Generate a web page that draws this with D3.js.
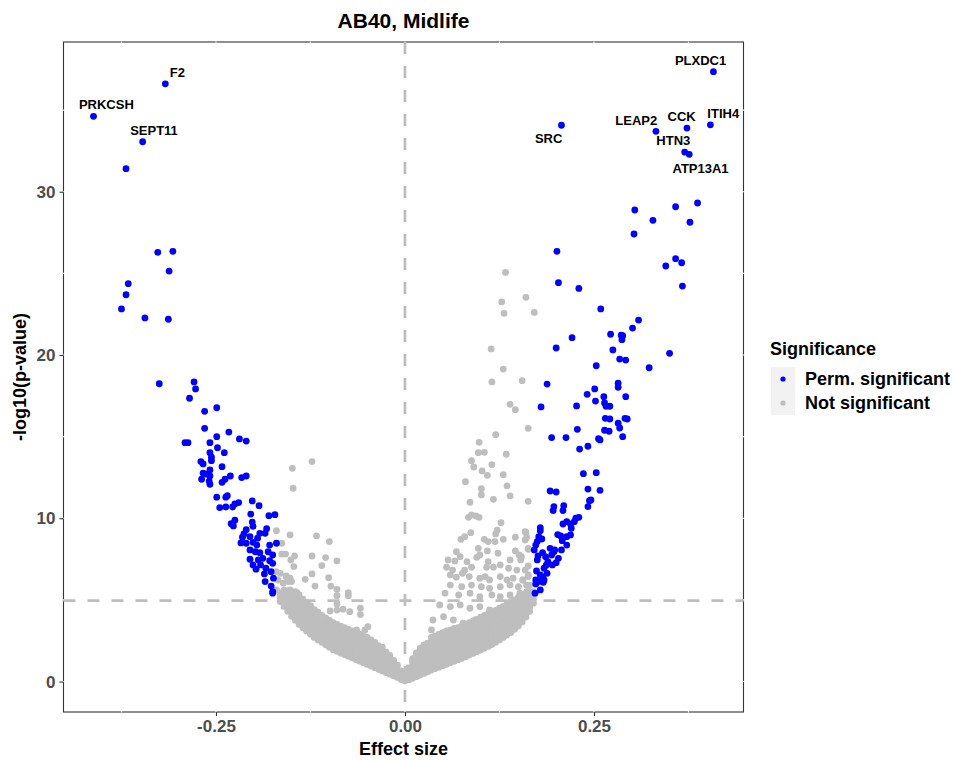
<!DOCTYPE html>
<meta charset="utf-8">
<style>
body{
	margin:0;
	background:#fff;
	font-family:"Liberation Sans",Arial,sans-serif;
}
text{font-weight:bold;}
</style>
<script src="https://cdn.jsdelivr.net/npm/d3@7"></script>
<body>
<script>

// effect size / -log10(p)
var blueLeft = [[-0.317,36.61],[-0.412,34.62],[-0.347,33.06],[-0.369,31.41],[-0.327,26.29],[-0.307,26.35],[-0.312,25.14],[-0.366,24.37],[-0.369,23.69],[-0.375,22.82],[-0.344,22.27],[-0.313,22.19],[-0.325,18.24],[-0.279,18.35],[-0.277,17.92],[-0.285,17.35],[-0.265,16.55],[-0.249,16.77],[-0.265,15.51],[-0.249,15.00],[-0.233,15.28],[-0.219,14.86],[-0.210,14.73],[-0.291,14.63],[-0.287,14.63],[-0.258,14.63],[-0.248,14.32],[-0.239,14.02],[-0.258,14.02],[-0.256,13.74],[-0.256,13.53],[-0.270,13.47],[-0.267,13.33],[-0.242,13.16],[-0.258,12.96],[-0.267,12.76],[-0.263,12.71],[-0.258,12.59],[-0.269,12.39],[-0.259,12.28],[-0.258,12.08],[-0.231,12.59],[-0.238,12.39],[-0.242,12.20],[-0.216,12.49],[-0.210,12.59],[-0.249,11.29],[-0.237,11.29],[-0.235,11.38],[-0.245,10.65],[-0.237,10.69],[-0.228,10.69],[-0.225,10.88],[-0.220,10.96],[-0.202,11.06],[-0.193,10.77],[-0.204,10.26],[-0.180,10.16],[-0.172,10.22],[-0.225,9.88],[-0.230,9.67],[-0.227,9.53],[-0.202,9.77],[-0.201,9.51],[-0.183,9.36],[-0.185,9.08],[-0.210,9.30],[-0.213,9.04],[-0.215,8.84],[-0.205,8.87],[-0.195,8.78],[-0.192,9.08],[-0.217,8.49],[-0.210,8.47],[-0.201,8.53],[-0.196,8.36],[-0.179,8.36],[-0.170,8.47],[-0.205,8.06],[-0.198,7.95],[-0.192,7.89],[-0.181,7.95],[-0.175,7.75],[-0.205,7.49],[-0.194,7.45],[-0.188,7.55],[-0.179,7.40],[-0.175,7.24],[-0.201,7.14],[-0.191,7.14],[-0.197,6.88],[-0.184,6.94],[-0.186,6.59],[-0.177,6.73],[-0.174,6.33],[-0.185,6.12],[-0.177,5.85],[-0.175,5.51],[-0.175,5.41]];

var blueRight = [[0.408,37.35],[0.404,34.10],[0.373,33.90],[0.332,33.70],[0.207,34.07],[0.370,32.43],[0.376,32.29],[0.358,29.08],[0.387,29.31],[0.304,28.88],[0.328,28.25],[0.377,28.13],[0.303,27.41],[0.201,26.35],[0.358,25.90],[0.366,25.65],[0.345,25.45],[0.203,24.43],[0.230,24.08],[0.367,24.22],[0.259,22.82],[0.309,22.14],[0.301,21.65],[0.272,21.27],[0.286,21.21],[0.287,20.94],[0.288,21.18],[0.221,21.06],[0.200,20.43],[0.275,20.31],[0.350,20.10],[0.284,19.75],[0.292,19.69],[0.253,19.34],[0.323,19.22],[0.188,18.22],[0.282,18.27],[0.282,18.02],[0.251,17.92],[0.241,17.59],[0.263,17.45],[0.292,17.45],[0.180,16.82],[0.227,16.88],[0.252,17.18],[0.264,17.06],[0.266,16.86],[0.271,16.86],[0.265,16.12],[0.271,16.08],[0.291,16.12],[0.294,16.08],[0.282,15.82],[0.284,15.53],[0.228,15.45],[0.264,15.39],[0.270,15.33],[0.288,15.00],[0.194,14.94],[0.213,14.94],[0.256,14.87],[0.258,14.80],[0.242,14.41],[0.231,14.24],[0.236,12.73],[0.253,12.79],[0.192,11.67],[0.200,11.61],[0.242,11.79],[0.258,11.71],[0.246,11.12],[0.244,11.08],[0.242,10.71],[0.197,10.71],[0.196,10.47],[0.210,10.77],[0.209,10.47],[0.230,10.06],[0.226,10.00],[0.224,9.79],[0.219,9.65],[0.214,9.79],[0.209,9.65],[0.179,9.42],[0.179,9.24],[0.220,9.39],[0.219,8.98],[0.202,9.00],[0.206,8.92],[0.214,8.87],[0.177,8.87],[0.175,8.57],[0.173,8.36],[0.171,8.06],[0.181,8.73],[0.208,8.63],[0.214,8.36],[0.207,8.06],[0.192,8.16],[0.197,7.95],[0.194,7.75],[0.198,8.06],[0.182,7.89],[0.186,7.65],[0.189,7.34],[0.203,7.55],[0.200,7.28],[0.195,7.14],[0.175,7.45],[0.176,7.69],[0.187,7.14],[0.184,6.94],[0.188,6.63],[0.174,6.77],[0.179,6.53],[0.173,6.22],[0.177,6.12],[0.184,6.22],[0.182,6.39],[0.179,5.61],[0.172,5.41],[0.183,6.08],[0.173,5.98]];

var greyLeft = [[-0.149,13.06],[-0.123,13.47],[-0.148,11.84],[-0.170,9.24],[-0.152,8.98],[-0.117,8.92],[-0.100,8.57],[-0.163,8.47],[-0.163,7.81],[-0.158,7.81],[-0.146,7.69],[-0.151,7.45],[-0.123,7.69],[-0.105,7.59],[-0.090,7.39],[-0.147,7.04],[-0.110,7.10],[-0.165,6.63],[-0.157,6.42],[-0.152,6.33],[-0.150,6.12],[-0.132,6.26],[-0.123,6.59],[-0.119,5.85],[-0.101,6.36],[-0.098,5.85],[-0.090,5.65],[-0.090,5.26],[-0.075,5.44],[-0.075,5.26],[-0.090,4.75],[-0.090,4.38],[-0.099,4.32],[-0.073,4.28],[-0.059,4.49],[-0.059,4.10],[-0.049,3.36],[-0.053,3.16],[-0.064,3.16],[-0.082,4.43],[-0.170,6.73],[-0.157,6.47],[-0.168,6.22],[-0.161,6.02],[-0.154,6.12],[-0.170,5.61],[-0.161,5.51],[-0.152,5.61],[-0.143,5.44]];

var greyRight = [[0.160,23.53],[0.171,22.61],[0.155,18.43],[0.163,15.51],[0.133,25.06],[0.128,23.25],[0.131,22.55],[0.114,20.37],[0.130,19.14],[0.115,18.35],[0.139,16.98],[0.146,16.65],[0.120,15.12],[0.098,14.65],[0.097,14.02],[0.105,14.04],[0.134,13.92],[0.088,13.53],[0.091,13.14],[0.115,13.28],[0.102,12.90],[0.109,12.63],[0.130,12.67],[0.080,12.24],[0.101,11.81],[0.101,11.43],[0.135,11.98],[0.139,11.37],[0.117,11.16],[0.163,11.04],[0.086,10.98],[0.084,10.06],[0.088,10.20],[0.094,10.14],[0.098,10.06],[0.127,9.73],[0.122,9.28],[0.120,9.04],[0.160,9.14],[0.146,8.84],[0.159,8.67],[0.087,9.12],[0.074,8.71],[0.079,8.87],[0.105,8.71],[0.110,8.57],[0.119,8.57],[0.130,8.71],[0.097,8.16],[0.109,8.00],[0.123,7.86],[0.146,8.00],[0.163,8.10],[0.151,7.75],[0.068,7.95],[0.073,7.65],[0.057,7.45],[0.066,7.39],[0.095,7.61],[0.099,7.75],[0.082,7.34],[0.088,7.00],[0.079,6.83],[0.110,7.34],[0.108,7.00],[0.117,7.00],[0.126,7.14],[0.139,7.45],[0.153,7.45],[0.137,6.94],[0.148,6.83],[0.163,7.08],[0.055,7.00],[0.063,6.83],[0.060,6.53],[0.068,6.39],[0.076,6.63],[0.085,6.43],[0.099,6.33],[0.106,6.43],[0.112,6.22],[0.126,6.43],[0.135,6.22],[0.143,6.33],[0.156,6.22],[0.163,6.43],[0.060,5.91],[0.075,5.81],[0.088,5.91],[0.101,5.81],[0.112,5.71],[0.126,5.81],[0.139,5.91],[0.150,5.81],[0.161,5.91],[0.053,5.41],[0.071,5.30],[0.086,5.41],[0.099,5.20],[0.115,5.30],[0.126,5.20],[0.139,5.30],[0.152,5.41],[0.165,5.51],[0.046,4.69],[0.060,4.59],[0.073,4.69],[0.086,4.49],[0.099,4.59],[0.112,4.39],[0.126,4.49],[0.139,4.69],[0.152,4.80],[0.037,3.77],[0.051,3.97],[0.064,3.77],[0.077,3.57],[0.093,3.77],[0.108,3.67],[0.121,3.77],[0.035,3.16],[0.046,2.75],[0.060,2.96],[0.075,3.06],[0.159,9.18],[0.161,8.84],[0.163,8.16],[0.154,7.65],[0.159,6.83],[0.163,6.53],[0.156,6.22],[0.165,5.91],[0.161,5.51]];

// the dense grey band near the bottom: effect, then the -log10(p) values stacked at it
var greyBandLeft = [[-0.165,[4.9,5.15,5.4]],[-0.160,[4.6,4.85,5.1,5.35,5.6]],[-0.155,[4.3,4.55,4.8,5.05,5.3,5.55]],[-0.150,[4.0,4.25,4.5,4.75,5.0,5.25,5.5]],[-0.145,[3.75,4.0,4.25,4.5,4.75,5.0,5.25,5.5]],[-0.140,[3.5,3.75,4.0,4.25,4.5,4.75,5.0,5.3]],[-0.135,[3.3,3.55,3.8,4.05,4.3,4.55,4.8,5.05]],[-0.130,[3.1,3.35,3.6,3.85,4.1,4.35,4.6,4.85]],[-0.125,[2.9,3.15,3.4,3.65,3.9,4.15,4.4,4.65]],[-0.120,[2.7,2.95,3.2,3.45,3.7,3.95,4.2,4.4]],[-0.115,[2.55,2.8,3.05,3.3,3.55,3.8,4.05,4.25]],[-0.110,[2.4,2.65,2.9,3.15,3.4,3.65,3.9,4.05]],[-0.105,[2.25,2.5,2.75,3.0,3.25,3.5,3.75,3.9]],[-0.100,[2.1,2.35,2.6,2.85,3.1,3.35,3.6,3.75]],[-0.095,[1.95,2.2,2.45,2.7,2.95,3.2,3.45,3.6]],[-0.090,[1.85,2.1,2.35,2.6,2.85,3.1,3.35,3.5]],[-0.085,[1.75,2.0,2.25,2.5,2.75,3.0,3.25,3.4]],[-0.080,[1.65,1.9,2.15,2.4,2.65,2.9,3.15,3.3]],[-0.075,[1.55,1.8,2.05,2.3,2.55,2.8,3.05,3.2]],[-0.070,[1.45,1.7,1.95,2.2,2.45,2.7,2.95,3.1]],[-0.065,[1.35,1.6,1.85,2.1,2.35,2.6,2.85,3.0]],[-0.060,[1.25,1.5,1.75,2.0,2.25,2.5,2.75,2.9]],[-0.055,[1.15,1.4,1.65,1.9,2.15,2.4,2.65,2.8]],[-0.050,[1.05,1.3,1.55,1.8,2.05,2.3,2.55,2.7]],[-0.045,[0.95,1.2,1.45,1.7,1.95,2.2,2.4,2.55]],[-0.040,[0.85,1.1,1.35,1.6,1.85,2.1,2.3,2.4]],[-0.035,[0.75,1.0,1.25,1.5,1.75,2.0,2.2]],[-0.030,[0.65,0.9,1.15,1.4,1.65,1.9,2.1]],[-0.025,[0.55,0.8,1.05,1.3,1.55,1.8]],[-0.020,[0.45,0.7,0.95,1.2,1.45,1.6]],[-0.015,[0.35,0.6,0.85,1.1,1.3]],[-0.010,[0.25,0.5,0.75,1.0]],[-0.005,[0.12,0.4,0.65]],[0.000,[0.05,0.3,0.55]]];

var greyBandRight = [[0.005,[0.1,0.35,0.6,0.85]],[0.010,[0.2,0.45,0.7,0.95,1.2,1.4]],[0.015,[0.3,0.55,0.8,1.05,1.3,1.55,1.75]],[0.020,[0.4,0.65,0.9,1.15,1.4,1.65,1.9,2.05]],[0.025,[0.5,0.75,1.0,1.25,1.5,1.75,2.0,2.25]],[0.030,[0.6,0.85,1.1,1.35,1.6,1.85,2.1,2.35]],[0.035,[0.7,0.95,1.2,1.45,1.7,1.95,2.2,2.45,2.7]],[0.040,[0.8,1.05,1.3,1.55,1.8,2.05,2.3,2.55,2.8]],[0.045,[0.88,1.13,1.38,1.63,1.88,2.13,2.38,2.63,2.9]],[0.050,[0.97,1.22,1.47,1.72,1.97,2.22,2.47,2.72,3.0]],[0.055,[1.06,1.31,1.56,1.81,2.06,2.31,2.56,2.81,3.1]],[0.060,[1.15,1.4,1.65,1.9,2.15,2.4,2.65,2.9,3.15]],[0.065,[1.24,1.49,1.74,1.99,2.24,2.49,2.74,2.99,3.25]],[0.070,[1.33,1.58,1.83,2.08,2.33,2.58,2.83,3.08,3.3]],[0.075,[1.42,1.67,1.92,2.17,2.42,2.67,2.92,3.17,3.4]],[0.080,[1.52,1.77,2.02,2.27,2.52,2.77,3.02,3.27,3.5]],[0.085,[1.62,1.87,2.12,2.37,2.62,2.87,3.12,3.37,3.6]],[0.090,[1.72,1.97,2.22,2.47,2.72,2.97,3.22,3.47,3.7]],[0.095,[1.82,2.07,2.32,2.57,2.82,3.07,3.32,3.57,3.8]],[0.100,[1.93,2.18,2.43,2.68,2.93,3.18,3.43,3.68,3.95]],[0.105,[2.04,2.29,2.54,2.79,3.04,3.29,3.54,3.79,4.05]],[0.110,[2.15,2.4,2.65,2.9,3.15,3.4,3.65,3.9,4.15]],[0.115,[2.27,2.52,2.77,3.02,3.27,3.52,3.77,4.02,4.25]],[0.120,[2.4,2.65,2.9,3.15,3.4,3.65,3.9,4.15,4.35]],[0.125,[2.55,2.8,3.05,3.3,3.55,3.8,4.05,4.3,4.5]],[0.130,[2.7,2.95,3.2,3.45,3.7,3.95,4.2,4.45,4.6]],[0.135,[2.85,3.1,3.35,3.6,3.85,4.1,4.35,4.6,4.75]],[0.140,[3.0,3.25,3.5,3.75,4.0,4.25,4.5,4.75,4.9]],[0.145,[3.2,3.45,3.7,3.95,4.2,4.45,4.7,5.0]],[0.150,[3.4,3.65,3.9,4.15,4.4,4.65,4.9,5.15]],[0.155,[3.65,3.9,4.15,4.4,4.65,4.9,5.15,5.3]],[0.160,[3.95,4.2,4.45,4.7,4.95,5.2,5.4]],[0.165,[4.3,4.55,4.8,5.05,5.3,5.5]],[0.170,[4.8,5.05,5.3,5.5]]];

// gene labels: name, label effect, label -log10(p)
var geneLabels = [["PLXDC1",0.391,38.02],["ITIH4",0.421,34.78],["CCK",0.366,34.59],["LEAP2",0.306,34.37],["HTN3",0.355,33.15],["SRC",0.190,33.29],["ATP13A1",0.391,31.41],["F2",-0.301,37.29],["PRKCSH",-0.395,35.35],["SEPT11",-0.332,33.74]];

var xTicks = [-0.25, 0, 0.25];
var xMinor = [-0.375, -0.125, 0.125, 0.375];
var yTicks = [0, 10, 20, 30];
var yMinor = [5, 15, 25, 35];
var pThreshold = 4.96;
var legendItems = ["Perm. significant", "Not significant"];

var W = 955, H = 761;
var panel = {left:63.5, right:743.5, top:42, bottom:712};

var x = d3.scaleLinear().domain([-0.4517, 0.4478]).range([panel.left, panel.right]);
var y = d3.scaleLinear().domain([-1.865, 39.17]).range([panel.bottom, panel.top]);

var svg = d3.select("body").append("svg").attr("width", W).attr("height", H);

// panel border, then white grid lines (they nick the border like in the original)
svg.append("rect")
	.attr("x", panel.left).attr("y", panel.top)
	.attr("width", panel.right - panel.left).attr("height", panel.bottom - panel.top)
	.attr("fill", "#fff").attr("stroke", "#333").attr("stroke-width", 1.1);

var grid = svg.append("g").attr("stroke", "#fff").attr("stroke-width", 1.1);
grid.selectAll(".gx").data(xTicks.concat(xMinor)).enter().append("line")
	.attr("x1", d => x(d)).attr("x2", d => x(d)).attr("y1", panel.top - 0.6).attr("y2", panel.bottom + 0.6);
grid.selectAll(".gy").data(yTicks.concat(yMinor)).enter().append("line")
	.attr("y1", d => y(d)).attr("y2", d => y(d)).attr("x1", panel.left - 0.6).attr("x2", panel.right + 0.6);

// reference lines
svg.append("line")
	.attr("x1", x(0)).attr("x2", x(0)).attr("y1", panel.top).attr("y2", panel.bottom)
	.attr("stroke", "#BEBEBE").attr("stroke-width", 2.8).attr("stroke-dasharray", "12,12");
svg.append("line")
	.attr("x1", panel.left).attr("x2", panel.right).attr("y1", y(pThreshold)).attr("y2", y(pThreshold))
	.attr("stroke", "#BEBEBE").attr("stroke-width", 2.8).attr("stroke-dasharray", "12,12");

// points
function flatBand(band){
	return band.flatMap(function(c){ return c[1].map(function(p){ return [c[0], p]; }); });
}
var greyPts = flatBand(greyBandLeft).concat(flatBand(greyBandRight), greyLeft, greyRight);
var bluePts = blueLeft.concat(blueRight);

svg.append("g").selectAll("circle").data(greyPts).enter().append("circle")
	.attr("cx", d => x(d[0])).attr("cy", d => y(d[1])).attr("r", 3.4).attr("fill", "#BEBEBE");
svg.append("g").selectAll("circle").data(bluePts).enter().append("circle")
	.attr("cx", d => x(d[0])).attr("cy", d => y(d[1])).attr("r", 3.4).attr("fill", "#0000FF");

// gene labels
svg.append("g").selectAll("text").data(geneLabels).enter().append("text")
	.attr("x", d => x(d[1])).attr("y", d => y(d[2]))
	.attr("dy", "0.35em").attr("text-anchor", "middle")
	.attr("font-size", 13).attr("fill", "#000")
	.text(d => d[0]);

// axes
var xAxis = svg.append("g").attr("transform", "translate(0," + panel.bottom + ")")
	.call(d3.axisBottom(x).tickValues(xTicks).tickFormat(d3.format(".2f")).tickSize(4).tickPadding(4));
var yAxis = svg.append("g").attr("transform", "translate(" + panel.left + ",0)")
	.call(d3.axisLeft(y).tickValues(yTicks).tickFormat(d3.format("d")).tickSize(4).tickPadding(4));
[xAxis, yAxis].forEach(function(a){
	a.select(".domain").remove();
	a.selectAll(".tick line").attr("stroke", "#333").attr("stroke-width", 1.1);
	a.selectAll(".tick text").attr("fill", "#4D4D4D").attr("font-size", 17)
		.attr("font-family", "Liberation Sans, Arial, sans-serif").attr("font-weight", "bold");
});
xAxis.selectAll(".tick text").text(d => d === 0 ? "0.00" : d3.format(".2f")(d).replace("−", "-"));

// titles
svg.append("text").attr("x", (panel.left + panel.right) / 2).attr("y", 28)
	.attr("text-anchor", "middle").attr("font-size", 21).text("AB40, Midlife");
svg.append("text").attr("x", (panel.left + panel.right) / 2).attr("y", 755)
	.attr("text-anchor", "middle").attr("font-size", 18).text("Effect size");
svg.append("text").attr("transform", "translate(26," + ((panel.top + panel.bottom) / 2) + ") rotate(-90)")
	.attr("text-anchor", "middle").attr("font-size", 18).text("-log10(p-value)");

// legend
var leg = svg.append("g").attr("transform", "translate(770,0)");
leg.append("text").attr("x", 0).attr("y", 355).attr("font-size", 18).text("Significance");
var legColors = ["#0000FF", "#BEBEBE"];
legendItems.forEach(function(name, i){
	var ky = 367 + i * 24;
	leg.append("rect").attr("x", 1).attr("y", ky).attr("width", 24).attr("height", 24).attr("fill", "#F2F2F2");
	leg.append("circle").attr("cx", 13).attr("cy", ky + 12).attr("r", 2.6).attr("fill", legColors[i]);
	leg.append("text").attr("x", 35).attr("y", ky + 12).attr("dy", "0.35em").attr("font-size", 18).text(name);
});

</script>
</body>
